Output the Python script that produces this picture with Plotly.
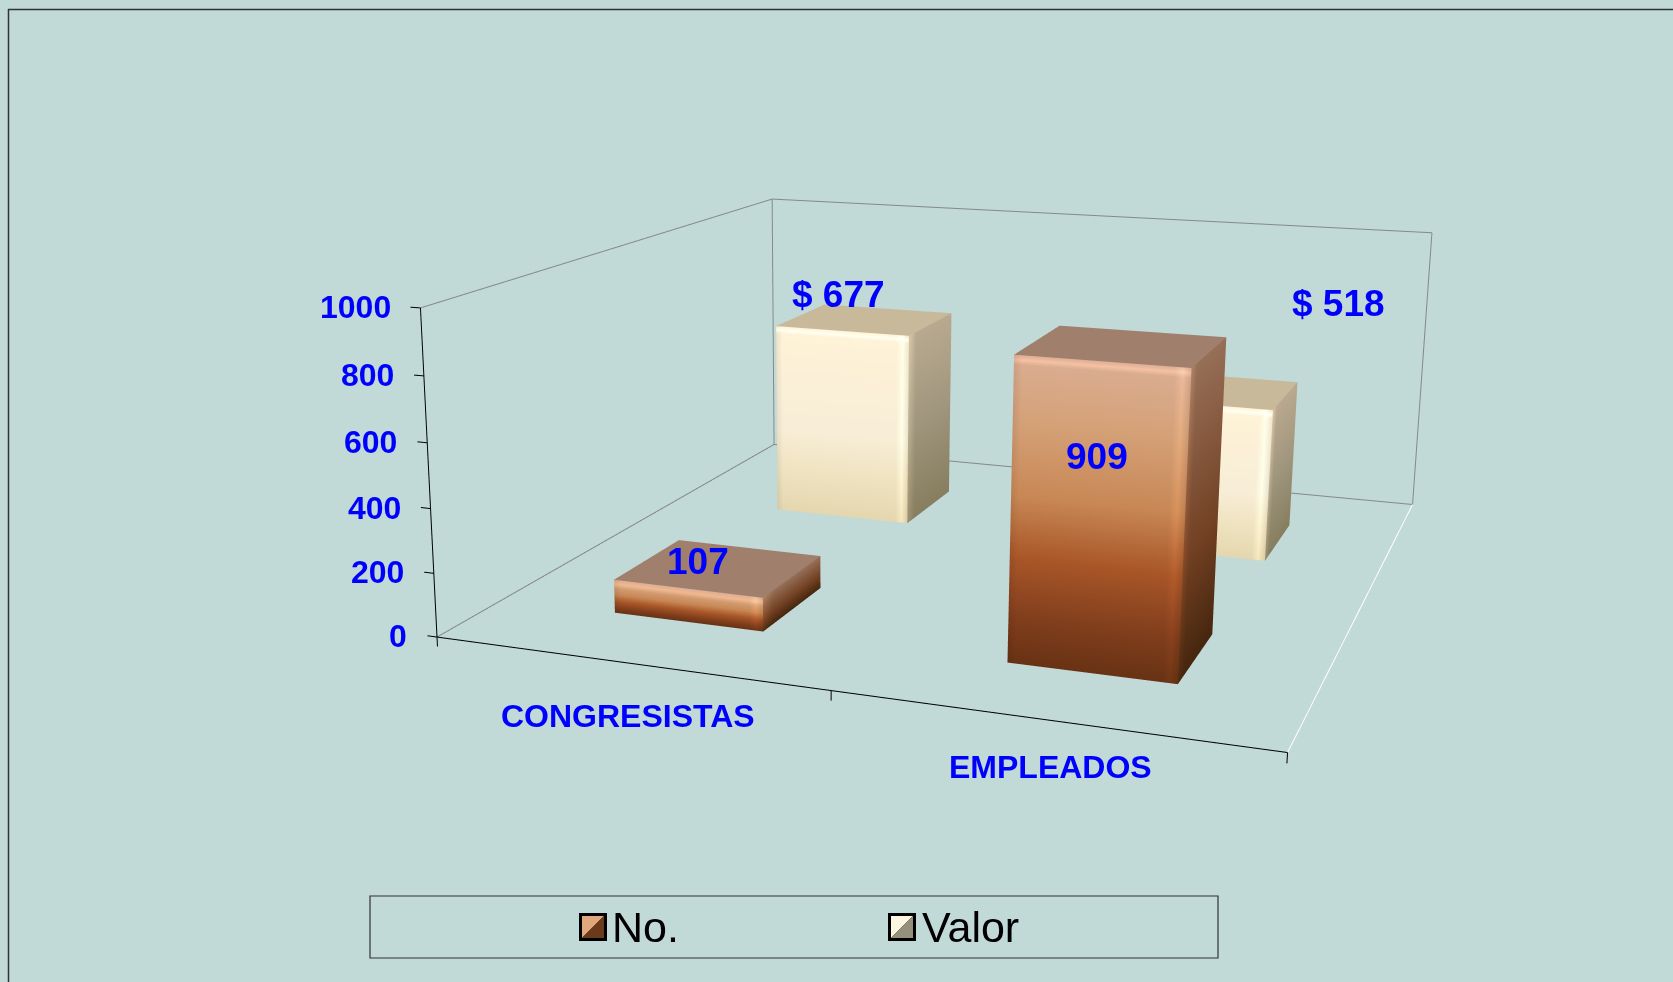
import numpy as np
import plotly.graph_objects as go

# ---------- data ----------
categories = ["CONGRESISTAS", "EMPLEADOS"]
series_names = ["No.", "Valor"]
no_values = [107, 909]
valor_values = [677, 518]
valor_labels = ["$ 677", "$ 518"]
z_ticks = [0, 200, 400, 600, 800, 1000]

# ---------- styles ----------
FONT = "Liberation Sans, Arial, sans-serif"
BLUE = "#0000ff"
BG = "#c1d9d7"
NO_FRONT = [(0, (104, 50, 20)), (.15, (128, 62, 28)), (.35, (168, 86, 40)), (.55, (200, 135, 85)), (.78, (212, 160, 118)), (1, (220, 174, 148))]
NO_SIDE = [(0, (70, 38, 14)), (.4, (115, 65, 35)), (1, (150, 112, 88))]
NO_TOP = (160, 128, 108)
VA_FRONT = [(0, (228, 215, 175)), (.25, (240, 228, 195)), (.45, (248, 238, 215)), (1, (255, 243, 215))]
VA_SIDE = [(0, (135, 125, 95)), (.5, (160, 150, 125)), (1, (185, 170, 145))]
VA_TOP = (200, 185, 155)
NO_SHIFT = [(-21, 6), (-25, -111)]
VA_SHIFT = [(-27, 25), (126, 86)]

W, FIG_H = 1673, 1800
SHIFT = (FIG_H - 982) // 2  # the tall page is moved up so the long-lens camera is centred in the window

def py(y):
    return 1 - (y + SHIFT) / FIG_H
def px(x):
    return x / W

# ---------- scene ----------
XR = [-0.06, 2.06]; YR = [0.0, 2.06]; ZR = [-40.0, 1030.0]
BASE_ASP = np.array([2.5408, 2.5997, 1.0])
BASE_EYE = np.array([2.0923, -6.6258, 1.6138])
BASE_CEN = np.array([-0.3324, -0.4053, -0.1785])
UP_X = 0.0049
spans = np.array([2.0, 2.0, 1000.0])
los = np.array([XR[0], YR[0], ZR[0]]); his = np.array([XR[1], YR[1], ZR[1]])
asp = BASE_ASP * (his - los) / spans
off = BASE_ASP * (0.5 - (his + los) / (2 * spans))
eye = BASE_EYE + off; cen = BASE_CEN + off

def lerp(stops, t):
    t = min(max(t, 0), 1)
    for (a, ca), (b, cb) in zip(stops, stops[1:]):
        if t <= b:
            f = (t - a) / (b - a)
            return tuple(ca[i] + f * (cb[i] - ca[i]) for i in range(3))
    return stops[-1][1]

def col(c, m=1.0):
    return "rgb(%d,%d,%d)" % tuple(min(255, max(0, v * m)) for v in c)

def bar_mesh(cx, cy, h, front, side, top, name):
    wx, wy = 0.197, 0.18
    x0, x1 = cx - wx, cx + wx
    y0, y1 = cy - wy, cy + wy
    bx, by, bz = 0.018, 0.02, 14.0
    V, C, I, J, K = [], [], [], [], []
    def grid(P, F, us, vs):
        n = len(V)
        for v in vs:
            for u in us:
                V.append(P(u, v)); C.append(F(u, v))
        nu = len(us)
        for a in range(len(vs) - 1):
            for b in range(nu - 1):
                q = n + a * nu + b
                I.extend([q, q]); J.extend([q + 1, q + nu + 1]); K.extend([q + nu + 1, q + nu])
    ts = sorted(set([s[0] * h for s in front] + [s[0] * h for s in side]))
    zs = sorted(set([z for z in ts if z < h - 2 * bz] + [max(0, h - 2 * bz), h - bz, h]))
    def mx(u):
        return 0.93 if u <= x0 else 1.0 if u < x1 - bx else 1.08 if u == x1 - bx else 0.95
    def mz(z):
        return 1.0 if z < h - bz else 1.12 if z == h - bz else 1.0
    grid(lambda u, v: (u, y0, v), lambda u, v: col(lerp(front, v / h), mx(u) * mz(v)),
         [x0, x0 + bx, x1 - 2 * bx, x1 - bx, x1], zs)
    grid(lambda u, v: (x1, u, v), lambda u, v: col(lerp(side, v / h), 1.0 + (0.18 if u == y0 else 0)),
         [y0, y0 + 3 * by, y1], zs)
    grid(lambda u, v: (u, v, h), lambda u, v: col(top), [x0, x1], [y0, y1])
    V = np.array(V)
    return go.Mesh3d(x=V[:, 0], y=V[:, 1], z=V[:, 2], i=I, j=J, k=K, vertexcolor=C, flatshading=False,
                     lighting=dict(ambient=1, diffuse=0, specular=0, fresnel=0, roughness=1),
                     hoverinfo="skip", showlegend=False, showscale=False, name=name)

def segs(pairs, color, width):
    x, y, z = [], [], []
    for a, b in pairs:
        x += [a[0], b[0], None]; y += [a[1], b[1], None]; z += [a[2], b[2], None]
    return go.Scatter3d(x=x, y=y, z=z, mode="lines", line=dict(color=color, width=width), hoverinfo="skip", showlegend=False)

fig = go.Figure()
zm = 1000.0
fig.add_trace(segs([((0, 2, 0), (2, 2, 0)), ((0, 0, 0), (0, 2, 0)), ((0, 2, 0), (0, 2, zm)), ((2, 2, 0), (2, 2, zm)),
                    ((0, 2, zm), (2, 2, zm)), ((0, 0, zm), (0, 2, zm))], "#858a88", 2))
fig.add_trace(segs([((2, 0, 0), (2, 2, 0))], "#ffffff", 2))
fig.add_trace(segs([((0, 0, 0), (0, 0, zm)), ((0, 0, 0), (2, 0, 0))] +
                   [((-0.026, 0, t), (0, 0, t)) for t in z_ticks] +
                   [((i, 0, 0), (i, 0, -30)) for i in range(len(categories) + 1)], "#000000", 2))

for i in range(len(categories)):
    fig.add_trace(bar_mesh(i + 0.51, 1.48, valor_values[i], VA_FRONT, VA_SIDE, VA_TOP, "Valor"))
    fig.add_trace(bar_mesh(i + 0.505, 0.49, no_values[i], NO_FRONT, NO_SIDE, NO_TOP, "No."))

# legend entries (the swatches are drawn larger below)
for nm in series_names:
    fig.add_trace(go.Scatter3d(x=[None], y=[None], z=[None], mode="markers", name=nm,
                               marker=dict(symbol="square", size=4, color="rgba(0,0,0,0)", line=dict(color="rgba(0,0,0,0)", width=0))))

def ann(x, y, z, text, size, xa="center", xs=0, ys=0):
    return dict(x=x, y=y, z=z, text=text, showarrow=False, xanchor=xa, yanchor="middle", xshift=xs, yshift=ys,
                font=dict(family=FONT, size=size, color=BLUE, weight="bold"))

anns = [ann(-0.026, 0, t, str(t), 32, "right", -18) for t in z_ticks]
anns += [ann(0.5, 0, 0, categories[0], 32, xs=1, ys=-53), ann(1.5, 0, 0, categories[1], 32, xs=0, ys=-47)]
anns += [ann(i + 0.505, 0.49, no_values[i], str(no_values[i]), 37, xs=NO_SHIFT[i][0], ys=NO_SHIFT[i][1]) for i in range(2)]
anns += [ann(i + 0.51, 1.48, valor_values[i], valor_labels[i], 37, xs=VA_SHIFT[i][0], ys=VA_SHIFT[i][1]) for i in range(2)]

def swatch(x, y, light, dark):
    s = 28; b = 3
    X = lambda v: px(x + v); Y = lambda v: py(y + v)
    tri1 = f"M {X(b)} {Y(b)} L {X(s-b)} {Y(b)} L {X(b)} {Y(s-b)} Z"
    tri2 = f"M {X(s-b)} {Y(b)} L {X(s-b)} {Y(s-b)} L {X(b)} {Y(s-b)} Z"
    return [
        dict(type="rect", xref="paper", yref="paper", x0=X(0), x1=X(s), y0=Y(0), y1=Y(s), fillcolor="#000", line=dict(width=0)),
        dict(type="path", xref="paper", yref="paper", path=tri1, fillcolor=light, line=dict(width=0)),
        dict(type="path", xref="paper", yref="paper", path=tri2, fillcolor=dark, line=dict(width=0)),
    ]

shapes = [
    dict(type="line", xref="paper", yref="paper", x0=px(8.5), x1=px(8.5), y0=py(9), y1=py(982), line=dict(color="#333", width=1.5)),
    dict(type="line", xref="paper", yref="paper", x0=px(8), x1=px(1673), y0=py(9.5), y1=py(9.5), line=dict(color="#333", width=1.5)),
    dict(type="rect", xref="paper", yref="paper", x0=px(370), x1=px(1218), y0=py(896), y1=py(958), line=dict(color="#333", width=1.2)),
] + swatch(579, 913, "#e0a67c", "#6b3a1a") + swatch(888, 913, "#fbf6e0", "#94907c")

fig.update_layout(
    width=W, height=FIG_H, margin=dict(l=0, r=0, t=0, b=0), paper_bgcolor=BG, plot_bgcolor=BG, autosize=False,
    scene=dict(
        domain=dict(x=[0, 1], y=[0, 1]),
        xaxis=dict(visible=False, range=XR, autorange=False),
        yaxis=dict(visible=False, range=YR, autorange=False),
        zaxis=dict(visible=False, range=ZR, autorange=False),
        bgcolor=BG, aspectmode="manual", aspectratio=dict(x=asp[0], y=asp[1], z=asp[2]),
        camera=dict(eye=dict(x=eye[0], y=eye[1], z=eye[2]), center=dict(x=cen[0], y=cen[1], z=cen[2]),
                    up=dict(x=UP_X, y=0, z=1), projection=dict(type="perspective")),
        annotations=anns),
    showlegend=True,
    legend=dict(orientation="h", x=px(572), xanchor="left", y=py(925), yanchor="middle", bgcolor="rgba(0,0,0,0)",
                font=dict(family=FONT, size=43, color="#000"), entrywidth=265, entrywidthmode="pixels"),
    shapes=shapes,
)
fig.write_html("out.html", config={"displayModeBar": False},
    post_script=f"document.body.style.margin='0';document.documentElement.style.overflow='hidden';document.body.style.overflow='hidden';document.querySelector('.plotly-graph-div').style.marginTop='-{SHIFT}px';")
